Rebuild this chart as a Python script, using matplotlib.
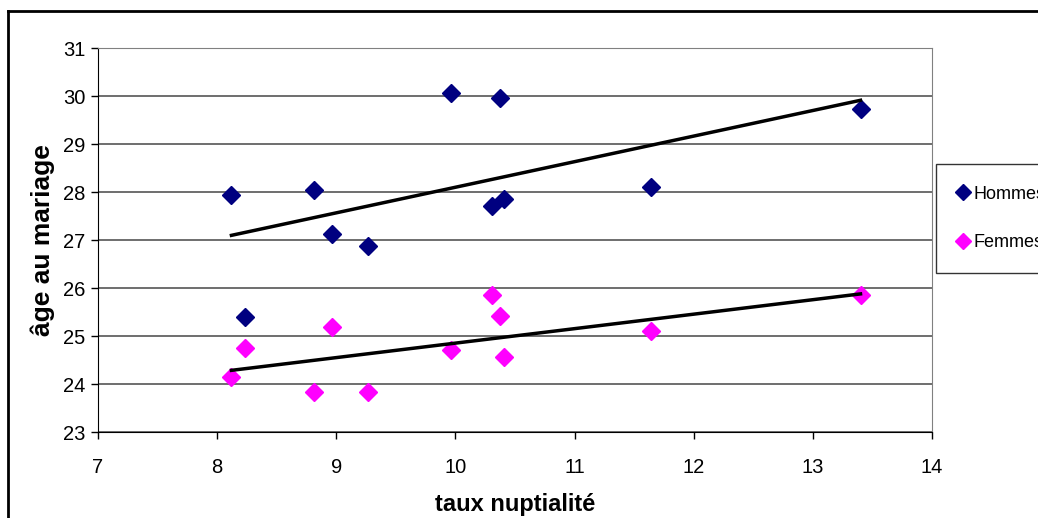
import numpy as np
import matplotlib.pyplot as plt
from matplotlib.lines import Line2D

plt.rcParams['font.family'] = ['Liberation Sans', 'DejaVu Sans']

# taux de nuptialité et âge moyen au mariage
taux = [8.12, 8.23, 8.81, 8.96, 9.27, 9.96, 10.37, 10.31, 10.41, 11.64, 13.40]
age_hommes = [27.94, 25.40, 28.04, 27.13, 26.88, 30.07, 29.96, 27.71, 27.85, 28.10, 29.73]
taux_f = [8.12, 8.23, 8.81, 8.96, 9.27, 9.96, 10.31, 10.37, 10.41, 11.64, 13.40]
age_femmes = [24.15, 24.74, 23.83, 25.18, 23.83, 24.70, 25.85, 25.42, 24.56, 25.10, 25.85]

x_ticks = [7, 8, 9, 10, 11, 12, 13, 14]
y_ticks = [23, 24, 25, 26, 27, 28, 29, 30, 31]

fig = plt.figure(figsize=(10.38, 5.18), dpi=100)
ax = fig.add_axes([98 / 1038, 1 - 432 / 518, (932 - 98) / 1038, (432 - 48) / 518])

for y in y_ticks:
    ax.axhline(y, color='#555555', lw=1.2, zorder=1)

ax.plot(taux, age_hommes, ls='none', marker='D', ms=9, color='#000080',
        mec='#000080', label='Hommes', zorder=3)
ax.plot(taux_f, age_femmes, ls='none', marker='D', ms=9, color='#FF00FF',
        mec='#FF00FF', label='Femmes', zorder=3)

# courbes de tendance linéaires
for xs, ys in [(taux, age_hommes), (taux_f, age_femmes)]:
    a, b = np.polyfit(xs, ys, 1)
    xx = np.array([min(xs), max(xs)])
    ax.plot(xx, a * xx + b, color='black', lw=2.5, zorder=4)

ax.set_xlim(7, 14)
ax.set_ylim(23, 31)
ax.set_xticks(x_ticks)
ax.set_yticks(y_ticks)
ax.tick_params(axis='both', direction='out', length=5, width=1, labelsize=14.5,
               color='black')
ax.tick_params(axis='x', pad=14)
ax.tick_params(axis='y', pad=4)
ax.spines['left'].set_color('black')
ax.spines['bottom'].set_color('black')
ax.spines['top'].set_color('#808080')
ax.spines['right'].set_color('#808080')
ax.set_xlabel('taux nuptialité', fontsize=17, fontweight='bold', labelpad=11)
ax.set_ylabel('âge au mariage', fontsize=19, fontweight='bold', labelpad=6)

leg = ax.legend(loc='upper left', bbox_to_anchor=(936 / 1038, 1 - 164 / 518),
                bbox_transform=fig.transFigure, fontsize=13, frameon=True,
                fancybox=False, edgecolor='black', borderpad=1.2,
                labelspacing=1.75, handlelength=0.6, handletextpad=0.3,
                borderaxespad=0)
leg.get_frame().set_linewidth(1)
for h in leg.legend_handles:
    h.set_markersize(8)

# cadre extérieur du graphique
fig.add_artist(Line2D([8 / 1038, 1.05], [1 - 11 / 518, 1 - 11 / 518],
                      transform=fig.transFigure, color='black', lw=2))
fig.add_artist(Line2D([8 / 1038, 8 / 1038], [1 - 11 / 518, -0.05],
                      transform=fig.transFigure, color='black', lw=2))

fig.savefig('out.png', dpi=100)
